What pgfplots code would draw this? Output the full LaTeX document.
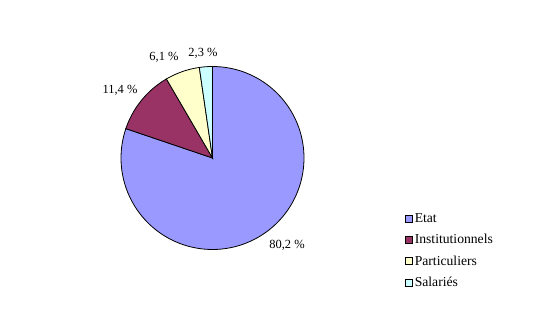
\documentclass[border=0pt]{standalone}
\usepackage{fontspec}
\setmainfont{Liberation Serif}
\usepackage{pgfplots}
\pgfplotsset{compat=1.18}
\definecolor{cEtat}{HTML}{9999FF}
\definecolor{cInst}{HTML}{993366}
\definecolor{cPart}{HTML}{FFFFCC}
\definecolor{cSal}{HTML}{CCFFFF}
% shares (%)
\def\vEtat{80.2}
\def\vInst{11.4}
\def\vPart{6.1}
\def\vSal{2.3}
\def\cx{212.5}
\def\cy{159}
\def\R{91.5}
\begin{document}
\begin{tikzpicture}
\pgfmathsetmacro{\aA}{90}
\pgfmathsetmacro{\aB}{\aA-3.6*\vEtat}
\pgfmathsetmacro{\aC}{\aB-3.6*\vInst}
\pgfmathsetmacro{\aD}{\aC-3.6*\vPart}
\pgfmathsetmacro{\aE}{\aD-3.6*\vSal}
\begin{axis}[
  scale only axis, width=534bp, height=317bp,
  xmin=0, xmax=534, ymin=0, ymax=317,
  hide axis, clip=false,
  legend style={at={(axis cs:404.5,106)}, anchor=north west, draw=none, fill=none,
    font=\fontsize{13.7}{15}\selectfont, row sep=6.6bp, inner sep=0pt,
    cells={anchor=west}},
  legend image code/.code={\draw[#1,draw=black,line width=0.6bp] (0bp,-3.5bp) rectangle (7.5bp,3.5bp);},
  every axis plot/.append style={line width=0.8bp, draw=black},
]
\path[draw=none] (rel axis cs:0,0) rectangle (rel axis cs:1,1);
\addplot[fill=cEtat, domain=\aA:\aB, samples=120, variable=\t]
  ({\cx+\R*cos(\t)},{\cy+\R*sin(\t)}) -- (\cx,\cy) -- cycle;
\addlegendentry{Etat}
\addplot[fill=cInst, domain=\aB:\aC, samples=30, variable=\t]
  ({\cx+\R*cos(\t)},{\cy+\R*sin(\t)}) -- (\cx,\cy) -- cycle;
\addlegendentry{Institutionnels}
\addplot[fill=cPart, domain=\aC:\aD, samples=20, variable=\t]
  ({\cx+\R*cos(\t)},{\cy+\R*sin(\t)}) -- (\cx,\cy) -- cycle;
\addlegendentry{Particuliers}
\addplot[fill=cSal, domain=\aD:\aE, samples=10, variable=\t]
  ({\cx+\R*cos(\t)},{\cy+\R*sin(\t)}) -- (\cx,\cy) -- cycle;
\addlegendentry{Salariés}
\node[font=\fontsize{12.5}{14}\selectfont] at (axis cs:287,72) {80,2 \%};
\node[font=\fontsize{12.5}{14}\selectfont] at (axis cs:120,227) {11,4 \%};
\node[font=\fontsize{12.5}{14}\selectfont] at (axis cs:164,260) {6,1 \%};
\node[font=\fontsize{12.5}{14}\selectfont] at (axis cs:203,264) {2,3 \%};
\end{axis}
\end{tikzpicture}
\end{document}
